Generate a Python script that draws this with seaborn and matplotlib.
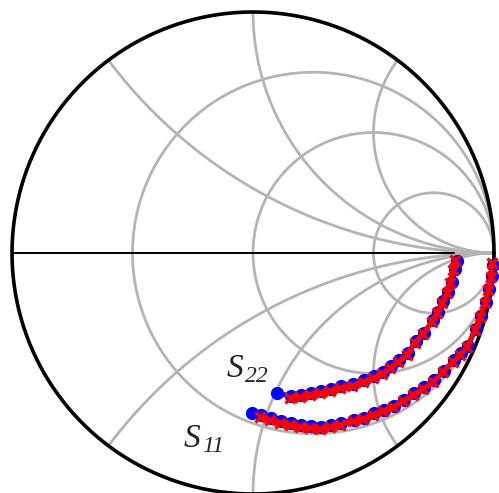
import numpy as np
import pandas as pd
import matplotlib
matplotlib.use("Agg")
import matplotlib.pyplot as plt
import seaborn as sns

# Reflection coefficients (real, imaginary) of the two ports
s11_meas_re = [0.996, 0.992, 0.980, 0.967, 0.946, 0.925, 0.892, 0.863, 0.834, 0.792, 0.751,
               0.709, 0.668, 0.626, 0.585, 0.543, 0.502, 0.460, 0.419, 0.365, 0.324, 0.282,
               0.241, 0.199, 0.158, 0.116, 0.075, 0.033, -0.004]
s11_meas_im = [-0.049, -0.095, -0.149, -0.203, -0.261, -0.315, -0.384, -0.417, -0.446, -0.488, -0.529,
               -0.558, -0.583, -0.608, -0.633, -0.650, -0.666, -0.683, -0.691, -0.706, -0.714, -0.722,
               -0.718, -0.714, -0.706, -0.697, -0.685, -0.672, -0.664]
s11_model_re = [0.992, 0.988, 0.975, 0.963, 0.942, 0.921, 0.888, 0.859, 0.830, 0.788, 0.747,
                0.705, 0.664, 0.622, 0.581, 0.539, 0.498, 0.456, 0.415, 0.361, 0.320, 0.278,
                0.237, 0.195, 0.154, 0.112, 0.071, 0.029]
s11_model_im = [-0.041, -0.100, -0.154, -0.207, -0.266, -0.320, -0.390, -0.423, -0.452, -0.494, -0.535,
                -0.564, -0.589, -0.614, -0.639, -0.656, -0.672, -0.689, -0.697, -0.714, -0.722, -0.730,
                -0.726, -0.722, -0.714, -0.705, -0.693, -0.680]

s22_meas_re = [0.846, 0.838, 0.825, 0.811, 0.790, 0.768, 0.747, 0.709, 0.676, 0.643, 0.606,
               0.572, 0.539, 0.502, 0.460, 0.415, 0.365, 0.324, 0.282, 0.241, 0.199, 0.158, 0.100]
s22_meas_im = [-0.033, -0.068, -0.120, -0.160, -0.201, -0.243, -0.280, -0.330, -0.366, -0.415, -0.444,
               -0.469, -0.494, -0.511, -0.527, -0.544, -0.552, -0.565, -0.573, -0.581, -0.590, -0.594, -0.581]
s22_model_re = [0.838, 0.830, 0.817, 0.805, 0.784, 0.763, 0.743, 0.705, 0.672, 0.639, 0.602,
                0.568, 0.535, 0.498, 0.456, 0.411, 0.361, 0.320, 0.278, 0.237, 0.195, 0.154]
s22_model_im = [-0.029, -0.071, -0.124, -0.166, -0.207, -0.249, -0.286, -0.336, -0.373, -0.423, -0.452,
                -0.477, -0.502, -0.519, -0.535, -0.552, -0.560, -0.573, -0.581, -0.589, -0.598, -0.602]

# Smith chart grid values
resistances = [1/3, 1.0, 3.0]
reactances = [0.5, 1.0, 2.0]

sns.set_style("white")

fig = plt.figure(figsize=(4.99, 4.93), dpi=100)
ax = fig.add_axes([0, 0, 1, 1])
ax.set_xlim(-1.0498, 1.0207)
ax.set_ylim(-0.9959, 1.0498)
ax.set_aspect("equal")
ax.axis("off")

grid_kw = dict(color="#b4b4b4", lw=2.0, zorder=1, solid_capstyle="butt")
t = np.linspace(0, 2 * np.pi, 721)

# constant-resistance circles
for r in resistances:
    c, rad = r / (1 + r), 1 / (1 + r)
    ax.plot(c + rad * np.cos(t), rad * np.sin(t), **grid_kw)

# constant-reactance arcs, clipped to the unit circle
for xv in reactances:
    for sgn in (1, -1):
        cy, rad = sgn / xv, 1 / xv
        px = 1 + rad * np.cos(t)
        py = cy + rad * np.sin(t)
        inside = px ** 2 + py ** 2 <= 1.0005
        px = np.where(inside, px, np.nan)
        py = np.where(inside, py, np.nan)
        ax.plot(px, py, **grid_kw)

ax.plot([0.80, 1.0], [0, 0], **grid_kw)
ax.plot([-1, 0.835], [0, 0], color="black", lw=1.4, zorder=2)
ax.plot(np.cos(t), np.sin(t), color="black", lw=2.6, zorder=2)

def frame(re, im, name):
    return pd.DataFrame({"re": re, "im": im, "trace": name})

meas = [frame(s11_meas_re, s11_meas_im, "S11"), frame(s22_meas_re, s22_meas_im, "S22")]
model = [frame(s11_model_re, s11_model_im, "S11"), frame(s22_model_re, s22_model_im, "S22")]

for df in meas:
    sns.lineplot(data=df, x="re", y="im", sort=False, ax=ax, color="#0000ff",
                 marker="o", markersize=8.5, markeredgecolor="#0000ff",
                 markeredgewidth=1, lw=3.5, zorder=3)
for df in model:
    sns.lineplot(data=df, x="re", y="im", sort=False, ax=ax, color="#ff0000",
                 marker="x", markersize=6.5, markeredgewidth=2.4,
                 markeredgecolor="#ff0000", lw=3.5, zorder=4)

# trace labels: italic S with an italic numeric subscript
label_kw = dict(family="Liberation Serif", style="italic", color="#222222",
                ha="left", va="baseline", zorder=5)
for (sx, sy), (bx, by), sub in [((-0.108, -0.515), (-0.033, -0.537), "22"),
                                ((-0.286, -0.805), (-0.209, -0.827), "11")]:
    ax.text(sx, sy, "S", fontsize=24, **label_kw)
    ax.text(bx, by, sub, fontsize=17, **label_kw)

fig.savefig("out.png", dpi=100)
